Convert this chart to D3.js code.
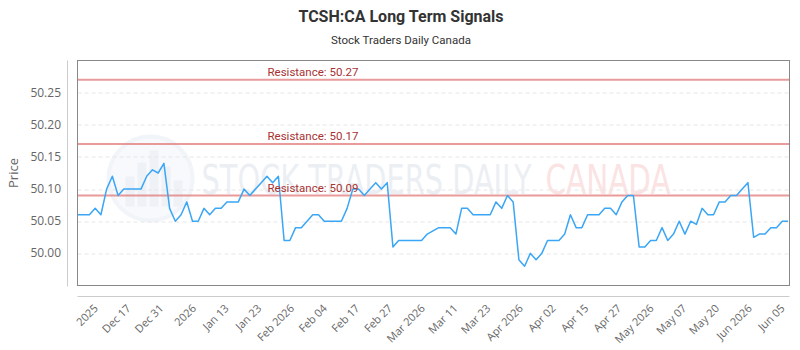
<!DOCTYPE html>
<html>
<head>
<meta charset="utf-8">
<script src="https://cdnjs.cloudflare.com/ajax/libs/d3/7.8.5/d3.min.js"></script>
<style>
  body { margin: 0; background: #fff; }
  svg { display: block; font-family: Roboto, "Open Sans", sans-serif; }
</style>
</head>
<body>
<div id="chart"></div>
<script>
// chart data
var prices = [
  50.06, 50.06, 50.06, 50.07, 50.06, 50.10, 50.12, 50.09, 50.10, 50.10,
  50.10, 50.10, 50.12, 50.13, 50.125, 50.14, 50.07, 50.05, 50.06, 50.08,
  50.05, 50.05, 50.07, 50.06, 50.07, 50.07, 50.08, 50.08, 50.08, 50.10,
  50.09, 50.10, 50.11, 50.12, 50.11, 50.12, 50.02, 50.02, 50.04, 50.04,
  50.05, 50.06, 50.06, 50.05, 50.05, 50.05, 50.05, 50.07, 50.10, 50.10,
  50.09, 50.10, 50.11, 50.10, 50.11, 50.01, 50.02, 50.02, 50.02, 50.02,
  50.02, 50.03, 50.035, 50.04, 50.04, 50.04, 50.03, 50.07, 50.07, 50.06,
  50.06, 50.06, 50.06, 50.08, 50.07, 50.09, 50.08, 49.99, 49.98, 50.00,
  49.99, 50.00, 50.02, 50.02, 50.02, 50.03, 50.06, 50.04, 50.04, 50.06,
  50.06, 50.06, 50.07, 50.07, 50.06, 50.08, 50.09, 50.09, 50.01, 50.01,
  50.02, 50.02, 50.04, 50.02, 50.03, 50.05, 50.03, 50.05, 50.045, 50.07,
  50.06, 50.06, 50.08, 50.08, 50.09, 50.09, 50.10, 50.11, 50.025, 50.03,
  50.03, 50.04, 50.04, 50.05, 50.05
];

var xLabels = ["2025", "Dec 17", "Dec 31", "2026", "Jan 13", "Jan 23", "Feb 2026",
  "Feb 04", "Feb 17", "Feb 27", "Mar 2026", "Mar 11", "Mar 23", "Apr 2026", "Apr 02",
  "Apr 15", "Apr 27", "May 2026", "May 07", "May 20", "Jun 2026", "Jun 05"];
// labels sit between trading days, in index units
var labelStart = 3.45;
var labelStep = 5.71;

var yTicks = [50.00, 50.05, 50.10, 50.15, 50.20, 50.25];
var resistance = [50.27, 50.17, 50.09];

var svgWidth = 800;
var svgHeight = 350;

var margin = { top: 60.5, right: 10.5, bottom: 64.5, left: 77.5 };
var width = svgWidth - margin.left - margin.right;
var height = svgHeight - margin.top - margin.bottom;

var svg = d3.select("#chart")
  .append("svg")
  .attr("width", svgWidth)
  .attr("height", svgHeight);

// titles
svg.append("text")
  .attr("x", 401)
  .attr("y", 22)
  .attr("text-anchor", "middle")
  .attr("font-size", 16)
  .attr("font-weight", "bold")
  .attr("fill", "#333")
  .text("TCSH:CA Long Term Signals");

svg.append("text")
  .attr("x", 401)
  .attr("y", 44)
  .attr("text-anchor", "middle")
  .attr("font-size", 11.5)
  .attr("fill", "#333")
  .text("Stock Traders Daily Canada");

var chartGroup = svg.append("g")
  .attr("transform", `translate(${margin.left}, ${margin.top})`);

// scales
var xScale = d3.scaleLinear()
  .domain([0, prices.length - 1])
  .range([0.5, width - 1.5]);

var yScale = d3.scaleLinear()
  .domain([49.95, 50.30])
  .range([height, 0]);

// watermark (faint logo)
var wm = chartGroup.append("g").attr("opacity", 0.4);
wm.append("circle")
  .attr("cx", 73).attr("cy", 118).attr("r", 42)
  .attr("fill", "#eef2f8")
  .attr("stroke", "#dde4ef")
  .attr("stroke-width", 4);
[[48, 30], [60, 44], [72, 56], [84, 40], [96, 26]].forEach(function (b) {
  wm.append("rect")
    .attr("x", b[0]).attr("y", 146 - b[1])
    .attr("width", 9).attr("height", b[1])
    .attr("fill", "#d6deea");
});
wm.append("text")
  .attr("x", 124).attr("y", 133)
  .attr("font-size", 40)
  .attr("font-family", "'DejaVu Sans Condensed', 'DejaVu Sans', sans-serif")
  .attr("textLength", 330)
  .attr("lengthAdjust", "spacingAndGlyphs")
  .attr("fill", "#cfd8e6")
  .text("STOCK TRADERS DAILY");
wm.append("text")
  .attr("x", 468).attr("y", 133)
  .attr("font-size", 40)
  .attr("font-family", "'DejaVu Sans Condensed', 'DejaVu Sans', sans-serif")
  .attr("textLength", 125)
  .attr("lengthAdjust", "spacingAndGlyphs")
  .attr("fill", "#f6baba")
  .text("CANADA");

// grid lines
chartGroup.append("g")
  .selectAll("line")
  .data(yTicks)
  .enter()
  .append("line")
  .attr("x1", 0)
  .attr("x2", width)
  .attr("y1", d => Math.round(yScale(d)) + 0.5)
  .attr("y2", d => Math.round(yScale(d)) + 0.5)
  .attr("stroke", "#e6e6e6")
  .attr("stroke-dasharray", "4,3");

// y axis labels
svg.append("g")
  .selectAll("text")
  .data(yTicks)
  .enter()
  .append("text")
  .attr("x", 61)
  .attr("y", d => margin.top + yScale(d) + 4)
  .attr("text-anchor", "end")
  .attr("font-size", 12)
  .attr("font-family", "'Open Sans', sans-serif")
  .attr("fill", "#666")
  .text(d => d.toFixed(2));

svg.append("text")
  .attr("transform", `translate(18, ${margin.top + height / 2}) rotate(-90)`)
  .attr("text-anchor", "middle")
  .attr("font-size", 13)
  .attr("font-family", "'Open Sans', sans-serif")
  .attr("fill", "#666")
  .text("Price");

// outer axis lines
svg.append("line")
  .attr("x1", 67.5).attr("x2", 67.5)
  .attr("y1", margin.top).attr("y2", margin.top + height + 1)
  .attr("stroke", "#ccc");
svg.append("line")
  .attr("x1", margin.left).attr("x2", margin.left + width)
  .attr("y1", 296.5).attr("y2", 296.5)
  .attr("stroke", "#ccc");

// x axis labels
var labelIdx = xLabels.map((d, i) => labelStart + i * labelStep);
svg.append("g")
  .selectAll("text")
  .data(xLabels)
  .enter()
  .append("text")
  .attr("transform", (d, i) => `translate(${margin.left + xScale(labelIdx[i]) + 1}, 309) rotate(-45)`)
  .attr("text-anchor", "end")
  .attr("font-size", 11)
  .attr("font-family", "'Open Sans', sans-serif")
  .attr("fill", "#666")
  .text(d => d);

// resistance lines
chartGroup.append("g")
  .selectAll("line")
  .data(resistance)
  .enter()
  .append("line")
  .attr("x1", 0)
  .attr("x2", width)
  .attr("y1", d => yScale(d))
  .attr("y2", d => yScale(d))
  .attr("stroke", "#e07070")
  .attr("stroke-opacity", 0.7)
  .attr("stroke-width", 2);

// price line
var line = d3.line()
  .x((d, i) => xScale(i))
  .y(d => yScale(d));

chartGroup.append("path")
  .datum(prices)
  .attr("d", line)
  .attr("fill", "none")
  .attr("stroke", "#3aa6f5")
  .attr("stroke-width", 1.5)
  .attr("stroke-linejoin", "round");

chartGroup.append("g")
  .selectAll("text")
  .data(resistance)
  .enter()
  .append("text")
  .attr("x", 190)
  .attr("y", d => yScale(d) - 4)
  .attr("font-size", 11.5)
  .attr("fill", "#a83232")
  .text(d => "Resistance: " + d.toFixed(2));

// plot border
chartGroup.append("rect")
  .attr("x", 0)
  .attr("y", 0)
  .attr("width", width)
  .attr("height", height)
  .attr("fill", "none")
  .attr("stroke", "#888");
</script>
</body>
</html>
